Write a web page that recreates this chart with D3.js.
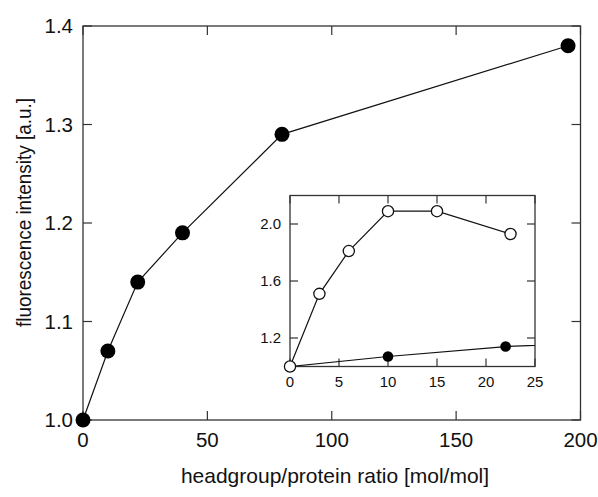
<!DOCTYPE html>
<html>
<head>
<meta charset="utf-8">
<script src="https://cdn.jsdelivr.net/npm/d3@7/dist/d3.min.js"></script>
<style>
  html, body { margin: 0; padding: 0; background: #fff; }
  svg { display: block; font-family: Arial, "Liberation Sans", sans-serif; }
</style>
</head>
<body>
<svg id="chart" width="598" height="497"></svg>
<script>
// Headgroup/protein ratio vs. fluorescence intensity (filled markers)
const ratio = [0, 10, 22, 40, 80, 195];
const intensity = [1.0, 1.07, 1.14, 1.19, 1.29, 1.38];

// Inset: low-ratio range, second series (open markers)
const insetRatio = [0, 3, 6, 10, 15, 22.5];
const insetIntensity = [1.0, 1.51, 1.81, 2.09, 2.09, 1.93];

const xTicks = [0, 50, 100, 150, 200];
const yTicks = [1.0, 1.1, 1.2, 1.3, 1.4];
const insetXTicks = [0, 5, 10, 15, 20, 25];
const insetYTicks = [1.2, 1.6, 2.0];

const xTitle = "headgroup/protein ratio [mol/mol]";
const yTitle = "fluorescence intensity [a.u.]";

const svg = d3.select("#chart");
const axisColor = "#333";

// ---------- main panel ----------
const M = { left: 83, right: 580.5, top: 26, bottom: 420 };
const x = d3.scaleLinear().domain([0, 200]).range([M.left, M.right]);
const y = d3.scaleLinear().domain([1.0, 1.4]).range([M.bottom, M.top]);

function frame(g, xs, ys, xt, yt, tick, fontSize, fmtX, fmtY, pad) {
  const [x0, x1] = xs.range();
  const [y0, y1] = ys.range();
  g.append("rect")
    .attr("x", x0).attr("y", y1)
    .attr("width", x1 - x0).attr("height", y0 - y1)
    .attr("fill", "none").attr("stroke", axisColor).attr("stroke-width", 1.3);
  // inward ticks on all four sides
  g.selectAll(null).data(xt).enter().append("line")
    .attr("x1", d => xs(d)).attr("x2", d => xs(d))
    .attr("y1", y0).attr("y2", y0 - tick)
    .attr("stroke", axisColor).attr("stroke-width", 1.2);
  g.selectAll(null).data(xt).enter().append("line")
    .attr("x1", d => xs(d)).attr("x2", d => xs(d))
    .attr("y1", y1).attr("y2", y1 + tick)
    .attr("stroke", axisColor).attr("stroke-width", 1.2);
  g.selectAll(null).data(yt).enter().append("line")
    .attr("x1", x0).attr("x2", x0 + tick)
    .attr("y1", d => ys(d)).attr("y2", d => ys(d))
    .attr("stroke", axisColor).attr("stroke-width", 1.2);
  g.selectAll(null).data(yt).enter().append("line")
    .attr("x1", x1).attr("x2", x1 - tick)
    .attr("y1", d => ys(d)).attr("y2", d => ys(d))
    .attr("stroke", axisColor).attr("stroke-width", 1.2);
  // tick labels
  g.selectAll(null).data(xt).enter().append("text")
    .attr("x", d => xs(d)).attr("y", y0 + pad.x)
    .attr("text-anchor", "middle")
    .attr("font-size", fontSize).attr("fill", "#111")
    .text(fmtX);
  g.selectAll(null).data(yt).enter().append("text")
    .attr("x", x0 - pad.y).attr("y", d => ys(d))
    .attr("dy", "0.36em")
    .attr("text-anchor", "end")
    .attr("font-size", fontSize).attr("fill", "#111")
    .text(fmtY);
}

const main = svg.append("g");
frame(main, x, y, xTicks, yTicks, 9, 20.5, d3.format("d"), d3.format(".1f"), { x: 27, y: 10 });

const line = d3.line().x((d, i) => x(ratio[i])).y(d => y(d));
main.append("path")
  .attr("d", line(intensity))
  .attr("fill", "none").attr("stroke", "#111").attr("stroke-width", 1.2);
main.selectAll(null).data(intensity).enter().append("circle")
  .attr("cx", (d, i) => x(ratio[i])).attr("cy", d => y(d))
  .attr("r", 7.5).attr("fill", "#000");

// axis titles
svg.append("text")
  .attr("x", 335).attr("y", 483)
  .attr("text-anchor", "middle").attr("font-size", 21).attr("fill", "#111")
  .text(xTitle);
svg.append("text")
  .attr("transform", "translate(31,212.5) rotate(-90)")
  .attr("text-anchor", "middle").attr("font-size", 21).attr("fill", "#111")
  .attr("textLength", 229).attr("lengthAdjust", "spacingAndGlyphs")
  .text(yTitle);

// ---------- inset ----------
const ix = d3.scaleLinear().domain([0, 25]).range([290, 535]);
const iy = d3.scaleLinear().domain([1.0, 2.2]).range([366.5, 195.5]);

const inset = svg.append("g");
inset.append("rect")
  .attr("x", 290).attr("y", 195.5).attr("width", 245).attr("height", 171)
  .attr("fill", "#fff");
frame(inset, ix, iy, insetXTicks, insetYTicks, 8, 15, d3.format("d"), d3.format(".1f"), { x: 20.5, y: 9 });

inset.append("clipPath").attr("id", "insetClip")
  .append("rect").attr("x", 290).attr("y", 195.5).attr("width", 245).attr("height", 171);

// filled series within the inset's range
const iLine = d3.line().x((d, i) => ix(ratio[i])).y(d => iy(d));
inset.append("path")
  .attr("clip-path", "url(#insetClip)")
  .attr("d", iLine(intensity))
  .attr("fill", "none").attr("stroke", "#111").attr("stroke-width", 1.2);
inset.selectAll(null)
  .data(intensity.map((v, i) => [ratio[i], v]).filter(d => d[0] > 0 && d[0] <= 25))
  .enter().append("circle")
  .attr("cx", d => ix(d[0])).attr("cy", d => iy(d[1]))
  .attr("r", 5.3).attr("fill", "#000");

// open series
const oLine = d3.line().x((d, i) => ix(insetRatio[i])).y(d => iy(d));
inset.append("path")
  .attr("d", oLine(insetIntensity))
  .attr("fill", "none").attr("stroke", "#111").attr("stroke-width", 1.2);
inset.selectAll(null).data(insetIntensity).enter().append("circle")
  .attr("cx", (d, i) => ix(insetRatio[i])).attr("cy", d => iy(d))
  .attr("r", 5.6).attr("fill", "#fff").attr("stroke", "#111").attr("stroke-width", 1.3);
</script>
</body>
</html>
